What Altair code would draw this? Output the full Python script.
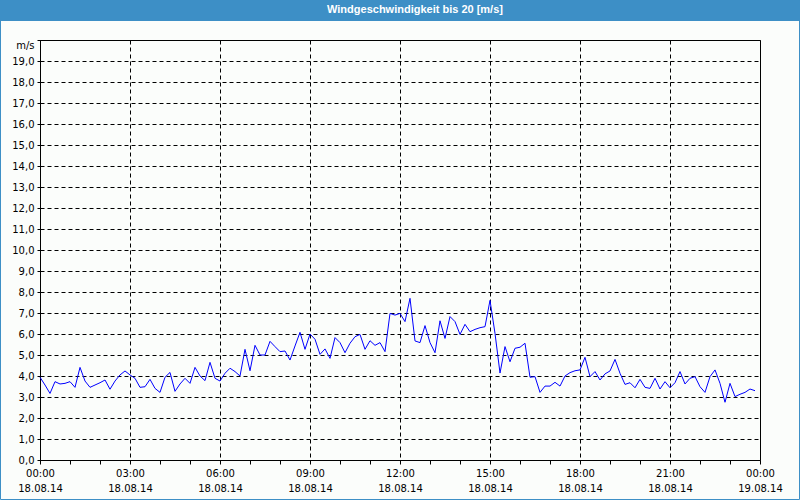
import altair as alt
import pandas as pd

TITLE = "Windgeschwindigkeit bis 20 [m/s]"

# 10-minute wind speed readings, 18.08.14 00:00 .. 23:50 (m/s)
speed = [
    3.94, 3.57, 3.17, 3.73, 3.62, 3.65, 3.73, 3.46, 4.41, 3.76,
    3.46, 3.57, 3.68, 3.81, 3.37, 3.76, 4.05, 4.24, 4.05, 3.89,
    3.46, 3.49, 3.84, 3.41, 3.22, 3.94, 4.17, 3.27, 3.62, 3.89,
    3.65, 4.41, 4.00, 3.78, 4.65, 3.89, 3.76, 4.13, 4.37, 4.21,
    4.00, 5.27, 4.25, 5.46, 5.00, 5.00, 5.65, 5.40, 5.16, 5.19,
    4.76, 5.43, 6.08, 5.27, 6.00, 5.75, 5.03, 5.29, 4.84, 5.83,
    5.59, 5.11, 5.56, 5.87, 5.98, 5.27, 5.68, 5.46, 5.59, 5.16,
    6.98, 6.90, 6.98, 6.59, 7.70, 5.67, 5.59, 6.40, 5.59, 5.11,
    6.63, 5.79, 6.83, 6.59, 5.98, 6.46, 6.11, 6.22, 6.30, 6.35,
    7.60, 6.03, 4.14, 5.40, 4.68, 5.32, 5.37, 5.56, 3.94, 3.97,
    3.22, 3.52, 3.52, 3.70, 3.52, 4.00, 4.16, 4.25, 4.29, 4.89,
    3.97, 4.21, 3.81, 4.10, 4.24, 4.79, 4.13, 3.60, 3.68, 3.44,
    3.84, 3.46, 3.41, 3.89, 3.38, 3.73, 3.44, 3.68, 4.21, 3.62,
    3.89, 3.97, 3.49, 3.22, 3.97, 4.29, 3.65, 2.75, 3.65, 3.02,
    3.13, 3.22, 3.38, 3.30,
]
times = pd.date_range("2014-08-18 00:00", periods=len(speed), freq="10min").strftime("%Y-%m-%dT%H:%M:%SZ").tolist()

df = pd.DataFrame({"t": times, "v": speed})

hour_ticks = [alt.DateTime(year=2014, month=8, date=18, hours=h, utc=True) for h in range(24)] + [
    alt.DateTime(year=2014, month=8, date=19, hours=0, utc=True)
]
x_domain = [hour_ticks[0], hour_ticks[-1]]
y_ticks = list(range(0, 21))

FONT = "DejaVu Sans"

x_axis = alt.Axis(
    values=hour_ticks,
    labelExpr="utchours(datum.value) % 3 === 0 ? [utcFormat(datum.value, '%H:%M'), utcFormat(datum.value, '%d.%m.%y')] : ''",
    labelFont=FONT, labelFontSize=10, labelColor="#000000", labelLineHeight=15,
    labelPadding=4, labelAngle=0, labelOverlap=False, labelFlush=False,
    tickSize=4, tickColor="#000000", domainColor="#000000",
    grid=True, gridColor="#000000", gridDash=[4, 3], gridWidth=1,
    gridOpacity={"condition": {"test": "utchours(datum.value) % 3 === 0", "value": 1}, "value": 0},
    title=None,
)
y_axis = alt.Axis(
    values=y_ticks,
    labelExpr="datum.value == 20 ? 'm/s' : replace(format(datum.value, '.1f'), '.', ',')",
    labelFont=FONT, labelFontSize=10, labelColor="#000000", labelPadding=3,
    labelBaseline={"condition": {"test": "datum.value == 20", "value": "top"}, "value": "middle"},
    labelOverlap=False, labelFlush=False,
    tickSize=3, tickColor="#000000", domainColor="#000000",
    grid=True, gridColor="#000000", gridDash=[4, 3], gridWidth=1,
    title=None,
)

one = pd.DataFrame({"k": [0]})

title_bar = alt.Chart(one).mark_rect(color="#3d8fc6").encode(
    x=alt.value(-40), x2=alt.value(760), y=alt.value(-40), y2=alt.value(-19)
)
frame = alt.Chart(one).mark_rect(fill=None, stroke="#3d8fc6", strokeWidth=1).encode(
    x=alt.value(-39.5), x2=alt.value(759.5), y=alt.value(-39.5), y2=alt.value(459.5)
)
title_text = alt.Chart(one).mark_text(
    text=TITLE, font="Liberation Sans", fontSize=11, fontWeight="bold", color="#ffffff",
    align="center", baseline="middle",
).encode(x=alt.value(375), y=alt.value(-30))

line = alt.Chart(df).mark_line(color="#0000ff", strokeWidth=1).encode(
    x=alt.X("t:T", scale=alt.Scale(type="utc", domain=x_domain), axis=x_axis),
    y=alt.Y("v:Q", scale=alt.Scale(domain=[0, 20], nice=False, zero=True), axis=y_axis),
)

chart = alt.layer(title_bar, frame, title_text, line).properties(
    width=720, height=420,
    autosize=alt.AutoSizeParams(type="none"),
    padding={"left": 40, "top": 40, "right": 40, "bottom": 40},
    background="#fbfdfb",
).configure_view(stroke="#000000", strokeWidth=1, fill="#fbfdfb")

chart.save("out.html", embed_options={"renderer": "svg", "actions": False})
